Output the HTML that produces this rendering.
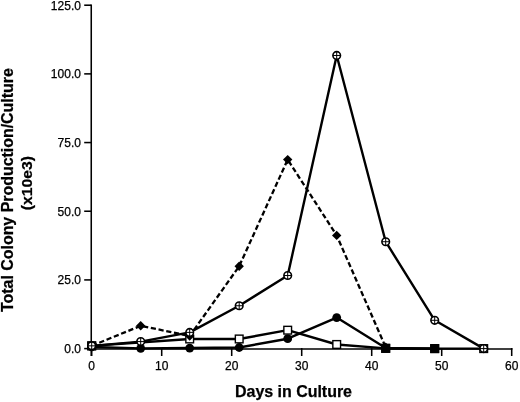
<!DOCTYPE html><html><head><meta charset="utf-8"><style>html,body{margin:0;padding:0;background:#fff;}svg{display:block;will-change:transform;}text{font-family:"Liberation Sans",sans-serif;fill:#000;stroke:#000;stroke-width:0.25px;}</style></head><body>
<svg width="520" height="402" viewBox="0 0 520 402">
<rect width="520" height="402" fill="#fff"/>
<g stroke="#000" stroke-width="1.55" fill="none" stroke-linecap="butt">
<line x1="91.25" y1="4.4" x2="91.25" y2="356"/>
<line x1="90.5" y1="348.95" x2="512.4" y2="348.95"/>
<line x1="84.2" y1="348.60" x2="91.25" y2="348.60"/>
<line x1="84.2" y1="279.92" x2="91.25" y2="279.92"/>
<line x1="84.2" y1="211.24" x2="91.25" y2="211.24"/>
<line x1="84.2" y1="142.56" x2="91.25" y2="142.56"/>
<line x1="84.2" y1="73.88" x2="91.25" y2="73.88"/>
<line x1="84.2" y1="5.20" x2="91.25" y2="5.20"/>
<line x1="91.70" y1="348" x2="91.70" y2="356"/>
<line x1="161.70" y1="348" x2="161.70" y2="356"/>
<line x1="231.70" y1="348" x2="231.70" y2="356"/>
<line x1="301.70" y1="348" x2="301.70" y2="356"/>
<line x1="371.70" y1="348" x2="371.70" y2="356"/>
<line x1="441.70" y1="348" x2="441.70" y2="356"/>
<line x1="511.70" y1="348" x2="511.70" y2="356"/>
</g>
<g font-size="12" text-anchor="end">
<text x="80.9" y="353.00">0.0</text>
<text x="80.9" y="284.32">25.0</text>
<text x="80.9" y="215.64">50.0</text>
<text x="80.9" y="146.96">75.0</text>
<text x="80.9" y="78.28">100.0</text>
<text x="80.9" y="9.60">125.0</text>
</g><g font-size="12" text-anchor="middle">
<text x="91.70" y="369.6">0</text>
<text x="161.70" y="369.6">10</text>
<text x="231.70" y="369.6">20</text>
<text x="301.70" y="369.6">30</text>
<text x="371.70" y="369.6">40</text>
<text x="441.70" y="369.6">50</text>
<text x="511.70" y="369.6">60</text>
</g>
<text x="235" y="396.8" font-size="16" font-weight="bold" textLength="117" lengthAdjust="spacing">Days in Culture</text>
<text transform="translate(13.4,312.0) rotate(-90)" font-size="16" font-weight="bold" textLength="243.9" lengthAdjust="spacing">Total Colony Production/Culture</text>
<text transform="translate(31.9,210.2) rotate(-90)" font-size="15.3" font-weight="bold" textLength="54.2" lengthAdjust="spacingAndGlyphs">(x10e3)</text>
<g fill="none" stroke="#000" stroke-width="2.4" stroke-linejoin="round">
<polyline points="385.70,348.33 434.70,348.60"/>
<polyline points="91.70,346.95 140.70,348.33 189.70,348.05 239.20,347.50 287.70,338.71 336.70,317.56 385.70,348.05 434.70,348.60"/>
<polyline points="91.70,345.85 189.70,338.98 239.20,338.98 287.70,330.19 336.70,344.48 385.70,348.33 434.70,348.60 483.70,348.60"/>
<polyline points="91.70,345.85 140.70,325.80 189.70,335.96 239.20,266.18 287.70,159.59 336.70,235.42 385.70,347.23" stroke-dasharray="5.2 2.67" stroke-dashoffset="7.55" stroke-width="2.3"/>
<polyline points="91.70,345.85 140.70,341.59 189.70,332.39 239.20,305.74 287.70,275.52 336.70,55.47 385.70,241.73 434.70,320.30 483.70,348.60"/>
</g>
<circle cx="91.70" cy="346.95" r="4.4" fill="#000"/><circle cx="140.70" cy="348.33" r="4.4" fill="#000"/><circle cx="189.70" cy="348.05" r="4.4" fill="#000"/><circle cx="239.20" cy="347.50" r="4.4" fill="#000"/><circle cx="287.70" cy="338.71" r="4.4" fill="#000"/><circle cx="336.70" cy="317.56" r="4.4" fill="#000"/><circle cx="385.70" cy="348.05" r="4.4" fill="#000"/><circle cx="434.70" cy="348.60" r="4.4" fill="#000"/><rect x="87.85" y="342.00" width="7.7" height="7.7" fill="#fff" stroke="#000" stroke-width="1.4"/><rect x="185.85" y="335.13" width="7.7" height="7.7" fill="#fff" stroke="#000" stroke-width="1.4"/><rect x="235.35" y="335.13" width="7.7" height="7.7" fill="#fff" stroke="#000" stroke-width="1.4"/><rect x="283.85" y="326.34" width="7.7" height="7.7" fill="#fff" stroke="#000" stroke-width="1.4"/><rect x="332.85" y="340.63" width="7.7" height="7.7" fill="#fff" stroke="#000" stroke-width="1.4"/><rect x="381.85" y="344.48" width="7.7" height="7.7" fill="#fff" stroke="#000" stroke-width="1.4"/><rect x="430.85" y="344.75" width="7.7" height="7.7" fill="#fff" stroke="#000" stroke-width="1.4"/><rect x="479.85" y="344.75" width="7.7" height="7.7" fill="#fff" stroke="#000" stroke-width="1.4"/><rect x="87.20" y="341.35" width="9" height="9" fill="#000"/><rect x="381.20" y="343.83" width="9" height="9" fill="#000"/><rect x="430.20" y="344.10" width="9" height="9" fill="#000"/><path d="M91.70 341.15L96.40 345.85L91.70 350.55L87.00 345.85Z" fill="#000"/><path d="M140.70 321.10L145.40 325.80L140.70 330.50L136.00 325.80Z" fill="#000"/><path d="M189.70 331.26L194.40 335.96L189.70 340.66L185.00 335.96Z" fill="#000"/><path d="M239.20 261.48L243.90 266.18L239.20 270.88L234.50 266.18Z" fill="#000"/><path d="M287.70 154.89L292.40 159.59L287.70 164.29L283.00 159.59Z" fill="#000"/><path d="M336.70 230.72L341.40 235.42L336.70 240.12L332.00 235.42Z" fill="#000"/><path d="M385.70 342.53L390.40 347.23L385.70 351.93L381.00 347.23Z" fill="#000"/><circle cx="91.70" cy="345.85" r="3.8" fill="#fff" stroke="#000" stroke-width="1.6"/><path d="M87.90 345.85H95.50M91.70 342.05V349.65" stroke="#000" stroke-width="1"/><circle cx="140.70" cy="341.59" r="3.8" fill="#fff" stroke="#000" stroke-width="1.6"/><path d="M136.90 341.59H144.50M140.70 337.79V345.39" stroke="#000" stroke-width="1"/><circle cx="189.70" cy="332.39" r="3.8" fill="#fff" stroke="#000" stroke-width="1.6"/><path d="M185.90 332.39H193.50M189.70 328.59V336.19" stroke="#000" stroke-width="1"/><circle cx="239.20" cy="305.74" r="3.8" fill="#fff" stroke="#000" stroke-width="1.6"/><path d="M235.40 305.74H243.00M239.20 301.94V309.54" stroke="#000" stroke-width="1"/><circle cx="287.70" cy="275.52" r="3.8" fill="#fff" stroke="#000" stroke-width="1.6"/><path d="M283.90 275.52H291.50M287.70 271.72V279.32" stroke="#000" stroke-width="1"/><circle cx="336.70" cy="55.47" r="3.8" fill="#fff" stroke="#000" stroke-width="1.6"/><path d="M332.90 55.47H340.50M336.70 51.67V59.27" stroke="#000" stroke-width="1"/><circle cx="385.70" cy="241.73" r="3.8" fill="#fff" stroke="#000" stroke-width="1.6"/><path d="M381.90 241.73H389.50M385.70 237.93V245.53" stroke="#000" stroke-width="1"/><circle cx="434.70" cy="320.30" r="3.8" fill="#fff" stroke="#000" stroke-width="1.6"/><path d="M430.90 320.30H438.50M434.70 316.50V324.10" stroke="#000" stroke-width="1"/><circle cx="483.70" cy="348.60" r="3.8" fill="#fff" stroke="#000" stroke-width="1.6"/><path d="M479.90 348.60H487.50M483.70 344.80V352.40" stroke="#000" stroke-width="1"/>
</svg></body></html>
